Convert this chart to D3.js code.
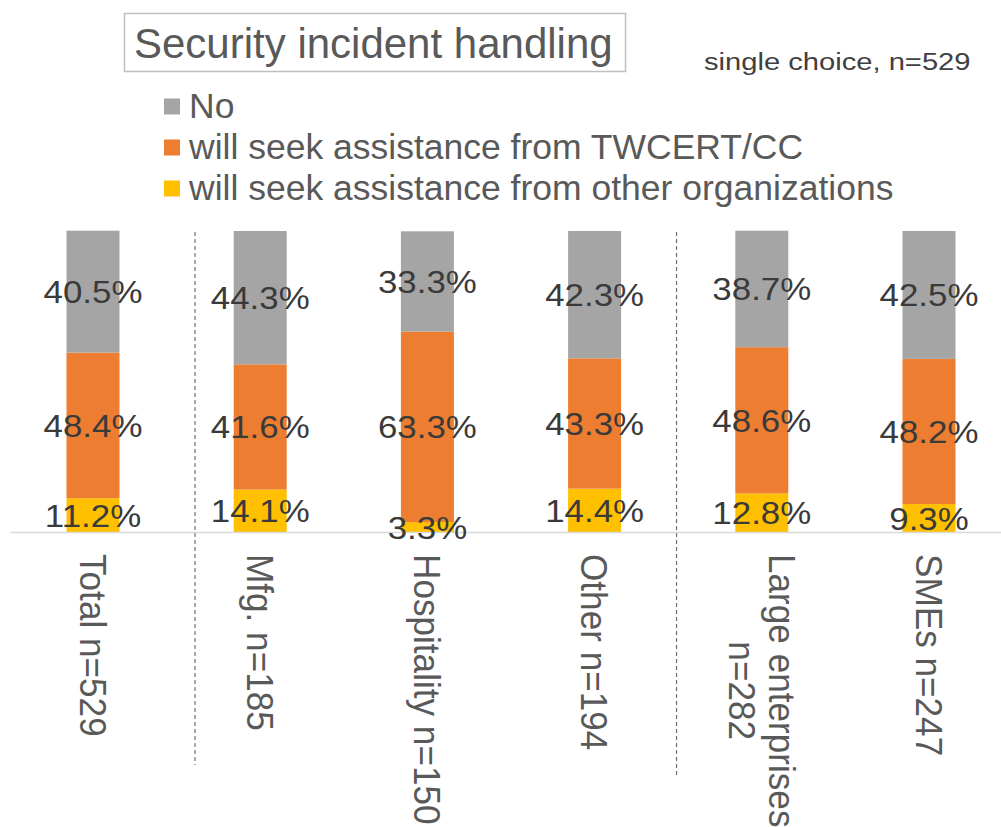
<!DOCTYPE html>
<html>
<head>
<meta charset="utf-8">
<script src="https://cdn.jsdelivr.net/npm/d3@7"></script>
<style>
  html, body { margin: 0; padding: 0; background: #ffffff; }
  svg { display: block; font-family: "Liberation Sans", Arial, sans-serif; }
</style>
</head>
<body>
<svg id="chart" width="1001" height="827"></svg>
<script>
// Survey breakdown: how organisations handle a security incident
const categories = ["Total n=529", "Mfg. n=185", "Hospitality n=150", "Other n=194", "Large enterprises\nn=282", "SMEs n=247"];
const seriesNames = ["No", "will seek assistance from TWCERT/CC", "will seek assistance from other organizations"];
const noValues = [40.5, 44.3, 33.3, 42.3, 38.7, 42.5];
const twcertValues = [48.4, 41.6, 63.3, 43.3, 48.6, 48.2];
const otherOrgValues = [11.2, 14.1, 3.3, 14.4, 12.8, 9.3];
const percentTicks = [0, 100];
const titleText = "Security incident handling";
const subtitleText = "single choice, n=529";

const colors = { "No": "#a5a5a5", "will seek assistance from TWCERT/CC": "#ed7d31", "will seek assistance from other organizations": "#ffc000" };

const svg = d3.select("#chart");

// Build rows for the stack generator
const rows = categories.map((c, i) => ({
  category: c,
  [seriesNames[0]]: noValues[i],
  [seriesNames[1]]: twcertValues[i],
  [seriesNames[2]]: otherOrgValues[i]
}));

// Bottom to top: other organisations, TWCERT/CC, No
const stackKeys = [seriesNames[2], seriesNames[1], seriesNames[0]];
const stacked = d3.stack().keys(stackKeys)(rows);

const x = d3.scaleBand()
  .domain(categories)
  .range([9.4, 1012.6])
  .paddingInner(0.683)
  .paddingOuter(0.3415);

const y = d3.scaleLinear()
  .domain(d3.extent(percentTicks))
  .range([532, 231]);

// Dashed group dividers (between Total | industries, and industries | size)
const dividers = [
  { after: 0, frac: 0.61, bottom: 765 },
  { after: 3, frac: 0.49, bottom: 775 }
];
svg.append("g").selectAll("line").data(dividers).join("line")
  .attr("x1", d => x(categories[d.after]) + x.bandwidth() / 2 + d.frac * x.step())
  .attr("x2", d => x(categories[d.after]) + x.bandwidth() / 2 + d.frac * x.step())
  .attr("y1", y(100) + 1)
  .attr("y2", d => d.bottom)
  .attr("stroke", "#6f6f6f")
  .attr("stroke-width", 1.2)
  .attr("stroke-dasharray", "4,3");

// Stacked bars
const layers = svg.append("g").selectAll("g").data(stacked).join("g")
  .attr("fill", d => colors[d.key]);
layers.selectAll("rect").data(d => d.map(s => ({ s, cat: s.data.category }))).join("rect")
  .attr("x", d => x(d.cat))
  .attr("width", x.bandwidth())
  .attr("y", d => y(d.s[1]))
  .attr("height", d => y(d.s[0]) - y(d.s[1]));

// Category axis line
svg.append("line")
  .attr("x1", 10).attr("x2", 1001)
  .attr("y1", y(0) + 0.5).attr("y2", y(0) + 0.5)
  .attr("stroke", "#d9d9d9")
  .attr("stroke-width", 1.5);

// Value labels centred in each segment
const labelG = svg.append("g");
stacked.forEach(layer => {
  layer.forEach(s => {
    const v = s.data[layer.key];
    const cx = x(s.data.category) + x.bandwidth() / 2;
    const cy = (y(s[0]) + y(s[1])) / 2;
    labelG.append("text")
      .attr("transform", `translate(${cx},${cy}) scale(1.09,1)`)
      .attr("text-anchor", "middle")
      .attr("dy", "0.36em")
      .attr("font-size", 32)
      .attr("fill", "#3a3a3a")
      .text(d3.format(".1f")(v) + "%");
  });
});

// Rotated category labels under the axis
const catFont = 37, catScale = 0.95, catLineH = 40, capH = catFont * 0.716;
const catG = svg.append("g").attr("fill", "#595959").attr("font-size", catFont);
categories.forEach(c => {
  const lines = c.split("\n");
  const cx = x(c) + x.bandwidth() / 2;
  const g = catG.append("g")
    .attr("transform", `translate(${cx},554) rotate(90) scale(${catScale},1)`);
  const texts = lines.map((ln, i) => g.append("text")
    .attr("y", i * catLineH - ((lines.length - 1) * catLineH) / 2 + capH / 2)
    .text(ln));
  const widths = texts.map(t => t.node().getComputedTextLength());
  const maxW = d3.max(widths);
  texts.forEach((t, i) => t.attr("x", (maxW - widths[i]) / 2));
});

// Title in a light box
svg.append("rect")
  .attr("x", 124.5).attr("y", 13.5)
  .attr("width", 501).attr("height", 58)
  .attr("fill", "none")
  .attr("stroke", "#bfbfbf")
  .attr("stroke-width", 1.5);
svg.append("text")
  .attr("x", 134).attr("y", 58)
  .attr("font-size", 42)
  .attr("fill", "#595959")
  .text(titleText);

svg.append("text")
  .attr("transform", "translate(704,70) scale(1.215,1)")
  .attr("font-size", 24)
  .attr("fill", "#404040")
  .text(subtitleText);

// Legend
const legend = svg.append("g").selectAll("g").data(seriesNames).join("g")
  .attr("transform", (d, i) => `translate(164,${106.5 + i * 41})`);
legend.append("rect")
  .attr("x", 0).attr("y", -8)
  .attr("width", 16).attr("height", 16)
  .attr("fill", d => colors[d]);
legend.append("text")
  .attr("x", 25).attr("y", 11)
  .attr("font-size", 35.5)
  .attr("fill", "#595959")
  .text(d => d);
</script>
</body>
</html>
